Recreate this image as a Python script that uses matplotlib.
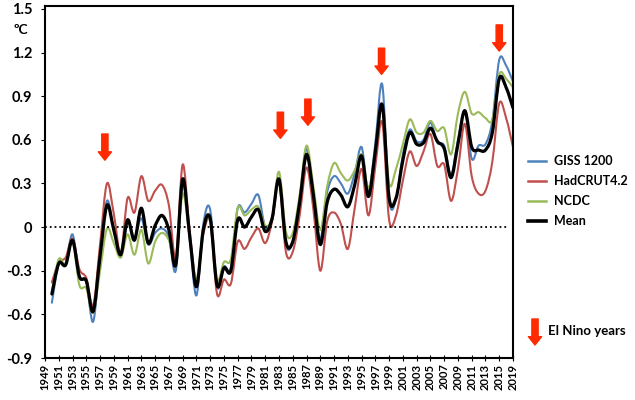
import matplotlib
matplotlib.use("Agg")
import matplotlib.pyplot as plt
from matplotlib.path import Path
from matplotlib.patches import PathPatch
from matplotlib.lines import Line2D

plt.rcParams['font.family'] = ['Lato', 'DejaVu Sans']
plt.rcParams['font.weight'] = 'bold'

# Annual anomalies (deg C), 1950-2017
years = list(range(1950, 2018))

giss = [-0.52, -0.25, -0.25, -0.05, -0.34, -0.38, -0.65, -0.20, 0.18, -0.02,
        -0.20, 0.03, -0.07, 0.06, -0.12, -0.04, -0.01, -0.07, -0.30, 0.30,
        -0.07, -0.47, 0.02, 0.12, -0.41, -0.27, -0.28, 0.13, 0.10, 0.16,
        0.22, 0.00, 0.05, 0.33, -0.12, -0.10, 0.18, 0.54, 0.22, -0.08,
        0.24, 0.35, 0.30, 0.23, 0.37, 0.55, 0.24, 0.58, 0.98, 0.19,
        0.19, 0.50, 0.67, 0.59, 0.60, 0.72, 0.58, 0.56, 0.36, 0.60,
        0.80, 0.47, 0.56, 0.57, 0.73, 1.15, 1.11, 1.00]

hadcrut = [-0.38, -0.24, -0.21, -0.08, -0.29, -0.35, -0.54, -0.12, 0.30, 0.09,
           -0.18, 0.20, 0.10, 0.35, 0.18, 0.25, 0.29, 0.15, -0.21, 0.43,
           -0.02, -0.37, -0.05, 0.04, -0.46, -0.36, -0.39, -0.10, -0.15, -0.07,
           -0.01, -0.11, 0.04, 0.31, -0.17, -0.17, 0.08, 0.41, 0.12, -0.30,
           0.04, 0.10, 0.02, -0.15, 0.13, 0.40, 0.08, 0.42, 0.72, 0.05,
           0.08, 0.32, 0.52, 0.42, 0.52, 0.64, 0.42, 0.43, 0.18, 0.40,
           0.71, 0.35, 0.23, 0.25, 0.45, 0.85, 0.75, 0.55]

ncdc = [-0.45, -0.22, -0.26, -0.10, -0.40, -0.42, -0.59, -0.30, -0.01, -0.11,
        -0.21, -0.05, -0.19, -0.02, -0.25, -0.10, -0.04, -0.09, -0.24, 0.23,
        -0.06, -0.36, -0.02, 0.04, -0.36, -0.24, -0.22, 0.13, 0.08, 0.12,
        0.14, 0.01, 0.07, 0.38, -0.03, -0.04, 0.22, 0.56, 0.28, -0.02,
        0.28, 0.44, 0.37, 0.32, 0.39, 0.50, 0.27, 0.52, 0.82, 0.30,
        0.40, 0.57, 0.74, 0.65, 0.65, 0.73, 0.66, 0.68, 0.50, 0.78,
        0.93, 0.78, 0.79, 0.75, 0.74, 1.05, 1.02, 0.96]

mean = [-0.46, -0.25, -0.26, -0.09, -0.34, -0.37, -0.58, -0.20, 0.15, -0.02,
        -0.19, 0.05, -0.09, 0.13, -0.11, 0.01, 0.08, -0.02, -0.26, 0.33,
        -0.05, -0.41, -0.02, 0.06, -0.40, -0.28, -0.30, 0.05, 0.00, 0.07,
        0.12, -0.03, 0.06, 0.33, -0.10, -0.10, 0.17, 0.50, 0.22, -0.12,
        0.17, 0.26, 0.22, 0.14, 0.29, 0.49, 0.21, 0.52, 0.84, 0.20,
        0.20, 0.46, 0.65, 0.57, 0.58, 0.68, 0.59, 0.54, 0.34, 0.57,
        0.80, 0.55, 0.53, 0.53, 0.65, 1.02, 0.96, 0.82]

series_names = ['GISS 1200', 'HadCRUT4.2', 'NCDC', 'Mean']
series_colors = ['#4F81BD', '#C0504D', '#9BBB59', '#000000']

# El Nino arrows: year position and value of the arrow tip
elnino_years = [1957.7, 1983.2, 1987.2, 1997.9, 2015.0]
elnino_tips = [0.46, 0.61, 0.70, 1.05, 1.21]

xtick_pos = list(range(1949, 2018, 2))
xtick_labels = [str(y) for y in range(1949, 2016, 2)] + ['2019']
ytick_pos = [-0.9, -0.6, -0.3, 0, 0.3, 0.6, 0.9, 1.2, 1.5]
ytick_labels = ['-0.9', '-0.6', '-0.3', '0', '0.3', '0.6', '0.9', '1.2', '1.5']


def smooth_path(xs, ys):
    # Catmull-Rom style bezier through the points, like a spreadsheet "smoothed line"
    n = len(xs)
    verts = [(xs[0], ys[0])]
    codes = [Path.MOVETO]
    for i in range(n - 1):
        a = max(i - 1, 0)
        d = min(i + 2, n - 1)
        c1 = (xs[i] + (xs[i + 1] - xs[a]) / 6, ys[i] + (ys[i + 1] - ys[a]) / 6)
        c2 = (xs[i + 1] - (xs[d] - xs[i]) / 6, ys[i + 1] - (ys[d] - ys[i]) / 6)
        verts += [c1, c2, (xs[i + 1], ys[i + 1])]
        codes += [Path.CURVE4] * 3
    return Path(verts, codes)


fig = plt.figure(figsize=(6.35, 4.0), dpi=100)
ax = fig.add_axes([45 / 635, 42 / 400, 468 / 635, 352 / 400])

widths = [1.5, 1.5, 1.5, 2.3]
handles = []
for vals, name, col, lw in zip([giss, hadcrut, ncdc, mean], series_names, series_colors, widths):
    ax.add_patch(PathPatch(smooth_path(years, vals), fill=False, edgecolor=col,
                           lw=lw, joinstyle='round', capstyle='round'))
    handles.append(Line2D([], [], color=col, lw=lw + 0.3))

ax.hlines(0, 1949, 2016.3, colors='black', linestyles=':', lw=1.3)

arrow_style = 'simple,head_width=0.95,head_length=0.6,tail_width=0.45'
arrow_len = 0.18
for yr, tip in zip(elnino_years, elnino_tips):
    ax.annotate('', xy=(yr, tip), xytext=(yr, tip + arrow_len),
                arrowprops=dict(arrowstyle=arrow_style, color='#FF2A00',
                                shrinkA=0, shrinkB=0, mutation_scale=10))

ax.set_xlim(1949, 2017)
ax.set_ylim(-0.9, 1.52)
ax.set_xticks(xtick_pos)
ax.set_xticklabels(xtick_labels, rotation=90, fontsize=8, fontweight='bold')
ax.set_yticks(ytick_pos)
ax.set_yticklabels(ytick_labels, fontsize=10.5, fontweight='bold')
ax.tick_params(axis='x', direction='inout', length=4, width=0.8, pad=2)
ax.tick_params(axis='y', direction='out', length=3, width=0.8, pad=6)
for s in ax.spines.values():
    s.set_linewidth(1.5)

fig.text(13 / 635, 1 - 30 / 400, 'ºC', fontsize=10, fontweight='bold', va='center', ha='left')

fig.legend(handles, series_names, loc='upper left', bbox_to_anchor=(528 / 635, 1 - 155 / 400),
           frameon=False, borderaxespad=0, borderpad=0, handlelength=1.4,
           handletextpad=0.7, labelspacing=0.65, prop={'weight': 'bold', 'size': 9})

ax.annotate('', xy=(535, 55), xytext=(535, 81), xycoords='figure pixels',
            arrowprops=dict(arrowstyle=arrow_style, color='#FF2A00',
                            shrinkA=0, shrinkB=0, mutation_scale=10),
            annotation_clip=False)
fig.text(548 / 635, 1 - 331 / 400, 'El Nino years', fontsize=9.5, fontweight='bold', va='center')

fig.savefig('out.png', dpi=100)
